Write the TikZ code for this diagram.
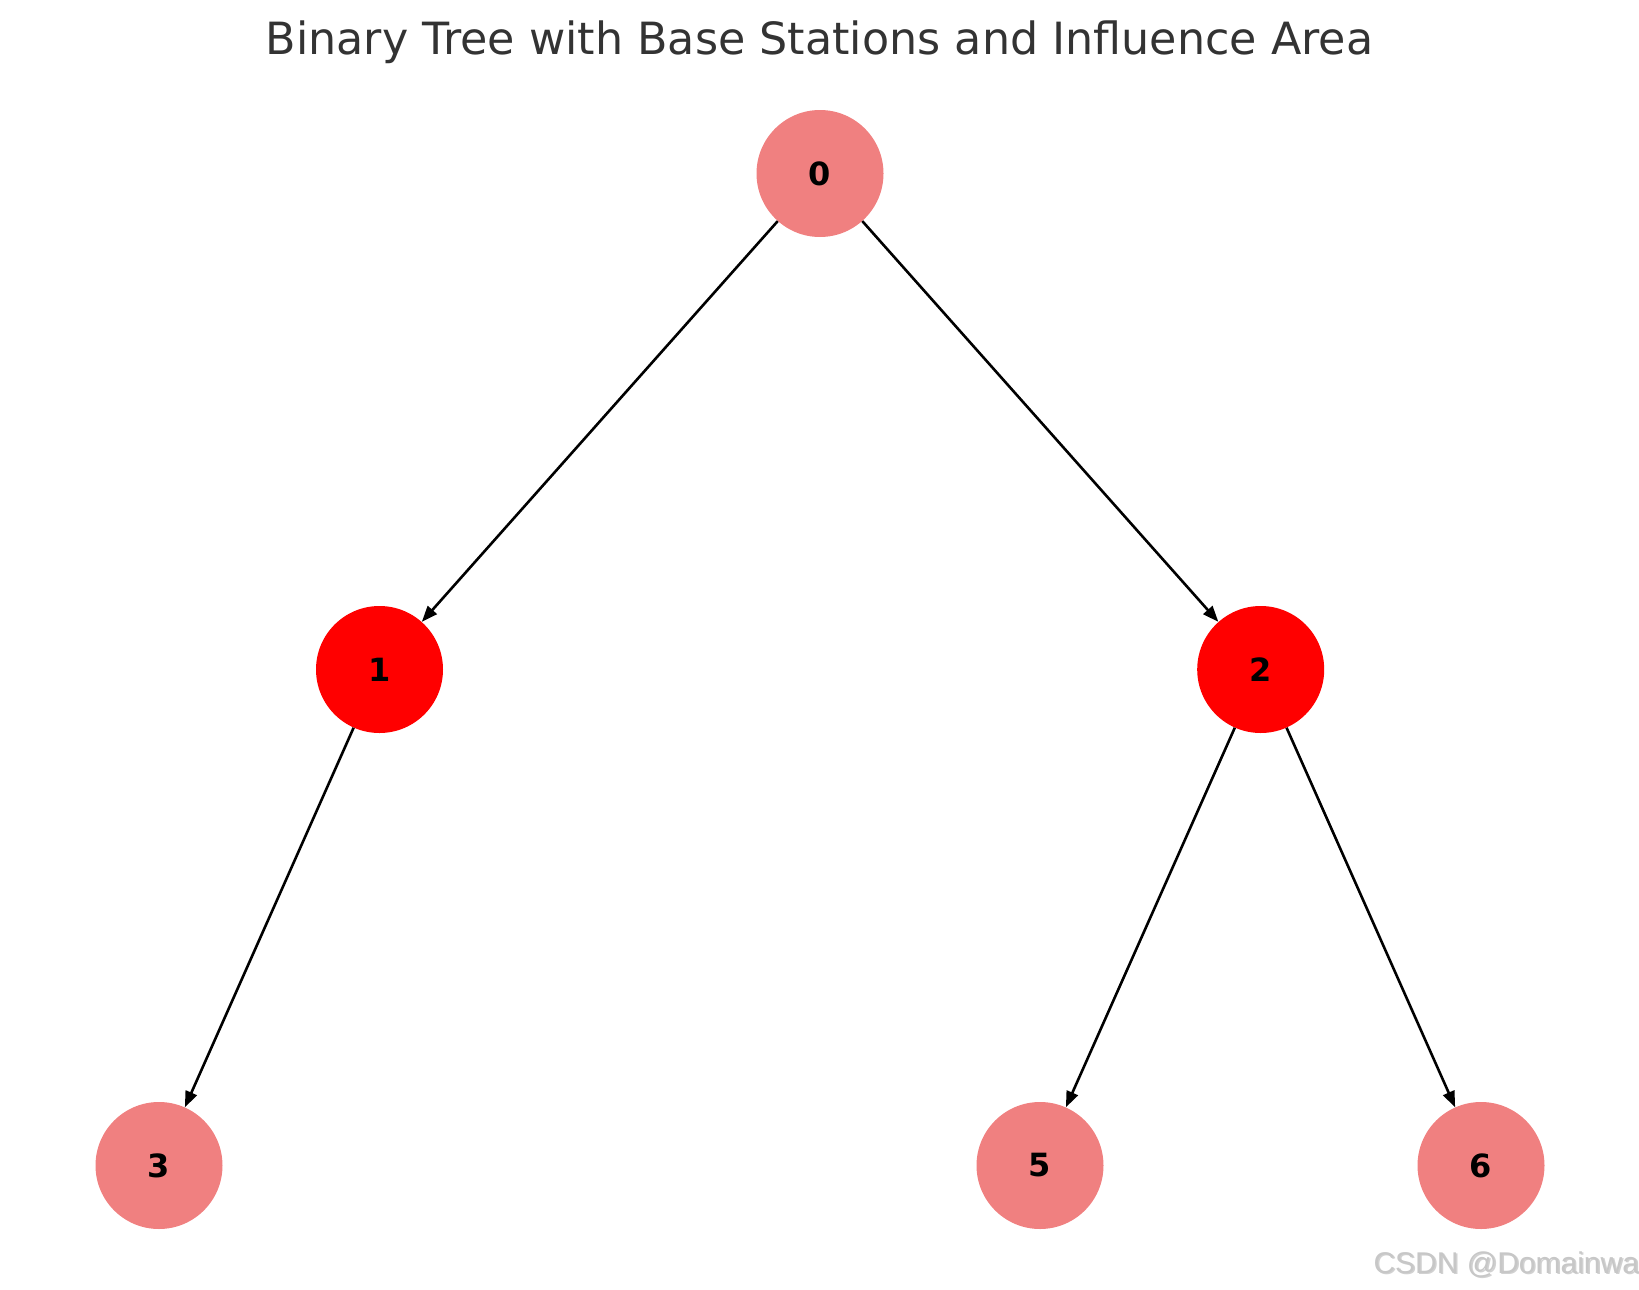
\documentclass[tikz,border=0pt]{standalone}
\usepackage{fontspec}
\setmainfont{DejaVu Sans}
\newfontfamily\wmfont{Liberation Sans}
\usetikzlibrary{arrows.meta}
\definecolor{lcoral}{HTML}{F08080}
\definecolor{titlegray}{HTML}{333333}
\tikzset{
  tnode/.style={circle, minimum size=127pt, inner sep=0pt, font=\fontsize{32}{32}\selectfont\bfseries, text=black},
  plain/.style={tnode, fill=lcoral},
  base/.style={tnode, fill=red},
  edge/.style={line width=2.6pt, -{Triangle[length=16pt, width=12pt]}, shorten >=0pt, shorten <=0pt}
}
\begin{document}
\begin{tikzpicture}[x=1pt,y=-1pt]
\useasboundingbox (0,0) rectangle (1639,1290);
\node[font=\fontsize{44.4}{44.4}\selectfont, text=titlegray, anchor=base] (title) at (819.5,54.5) {Binary Tree with Base Stations and Influence Area};
\node[plain] (n0) at (820,173.5) {0};
\node[base] (n1) at (379.5,669.5) {1};
\node[base] (n2) at (1260.7,669.5) {2};
\node[plain] (n3) at (159,1165.5) {3};
\node[plain] (n5) at (1040,1165.5) {5};
\node[plain] (n6) at (1481,1165.5) {6};
\draw[edge] (n0) -- (n1);
\draw[edge] (n0) -- (n2);
\draw[edge] (n1) -- (n3);
\draw[edge] (n2) -- (n5);
\draw[edge] (n2) -- (n6);
\node[font=\wmfont\fontsize{30}{30}\selectfont, text=black!18, anchor=base west] (wmshadow) at (1371.5,1274.5) {CSDN @Domainwa};
\node[font=\wmfont\fontsize{30}{30}\selectfont, text=black!22, anchor=base west] (wm) at (1370,1273) {CSDN @Domainwa};
\end{tikzpicture}
\end{document}
